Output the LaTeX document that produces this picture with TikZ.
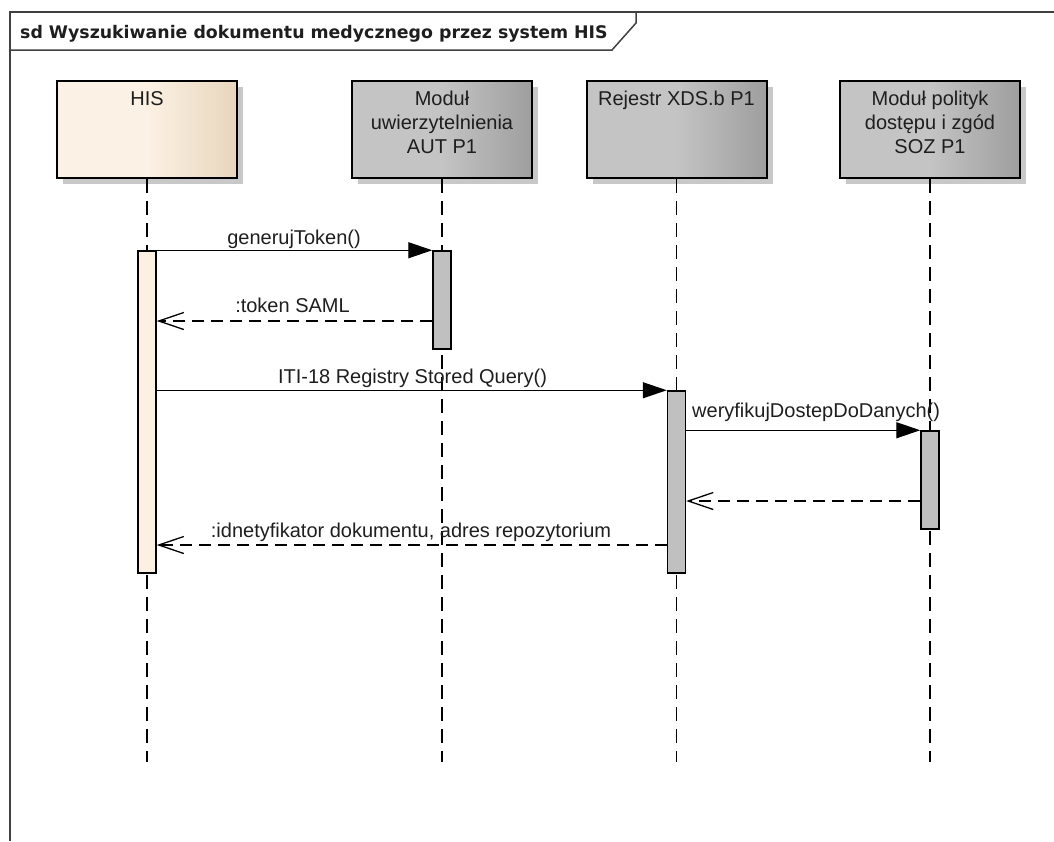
\documentclass[tikz,border=0pt]{standalone}
\usepackage{fontspec}
\setmainfont{Liberation Sans}
\newfontfamily\titlefont{DejaVu Sans}
\usetikzlibrary{arrows.meta,shadows}
\definecolor{hisL}{RGB}{251,241,228}
\definecolor{hisR}{RGB}{232,214,188}
\definecolor{grL}{RGB}{196,196,196}
\definecolor{grR}{RGB}{158,158,158}
\definecolor{shadowc}{RGB}{200,200,200}
\definecolor{framec}{RGB}{64,64,64}
\definecolor{actHIS}{RGB}{251,240,226}
\definecolor{actG}{RGB}{192,192,192}
\definecolor{txt}{RGB}{30,30,30}
\tikzset{
  lifebox/.style={draw=black, line width=2pt, minimum width=180pt, minimum height=97pt, inner sep=0pt,
    general shadow={fill=shadowc, shadow xshift=6pt, shadow yshift=-6pt}},
  hisfill/.style={left color=hisL, right color=hisR, middle color=hisL},
  grayfill/.style={left color=grL, right color=grR, middle color=grL},
  boxtext/.style={anchor=north, align=center, inner sep=0pt, font=\fontsize{20}{24}\selectfont, text=txt},
  lifeline/.style={line width=1.3pt, dash pattern=on 14pt off 8pt},
  act/.style={draw=black, line width=1.5pt, minimum width=18pt, inner sep=0pt},
  msg/.style={line width=1.3pt, -{Triangle[length=24pt,width=16pt]}},
  ret/.style={line width=1.3pt, dash pattern=on 12pt off 7pt, -{Straight Barb[length=25pt,width=17pt]}},
  lbl/.style={inner sep=0pt, font=\fontsize{20}{24}\selectfont, text=txt},
  frameline/.style={draw=framec, line width=1.5pt},
}
\begin{document}
\begin{tikzpicture}[x=1pt,y=-1pt]
\useasboundingbox (0,0) rectangle (1054,841);
% frame
\draw[frameline] (10,841) -- (10,12) -- (1054,12);
\draw[frameline] (10,50) -- (612,50) -- (636,23) -- (636,12);
\node[anchor=base west, inner sep=0pt, text=txt, font=\titlefont\bfseries\fontsize{17.35}{20}\selectfont] (title) at (20,38) {sd Wyszukiwanie dokumentu medycznego przez system HIS};
% lifeline heads
\node[lifebox, hisfill] (his) at (147,129.5) {};
\node[lifebox, grayfill] (aut) at (442,129.5) {};
\node[lifebox, grayfill] (rej) at (676.5,129.5) {};
\node[lifebox, grayfill] (soz) at (930,129.5) {};
\node[boxtext] (histxt) at ([yshift=-11pt]his.north) {HIS};
\node[boxtext] (auttxt) at ([yshift=-11pt]aut.north) {Moduł\\uwierzytelnienia\\AUT P1};
\node[boxtext] (rejtxt) at ([yshift=-11pt]rej.north) {Rejestr XDS.b P1};
\node[boxtext] (soztxt) at ([yshift=-11pt]soz.north) {Moduł polityk\\dostępu i zgód\\SOZ P1};
% lifelines
\coordinate (hisend) at (147,762);
\coordinate (autend) at (442,762);
\coordinate (rejend) at (676.5,762);
\coordinate (sozend) at (930,762);
\draw[lifeline] (his.south) -- (hisend);
\draw[lifeline] (aut.south) -- (autend);
\draw[lifeline] (rej.south) -- (rejend);
\draw[lifeline] (soz.south) -- (sozend);
% activations
\node[act, fill=actHIS, minimum height=322pt] (hisact) at (147,412) {};
\node[act, fill=actG, minimum height=98pt] (autact) at (442,300) {};
\node[act, fill=actG, minimum height=182pt] (rejact) at (676.5,482) {};
\node[act, fill=actG, minimum height=98pt] (sozact) at (930,480) {};
% messages
\coordinate (y2) at (0,321);
\coordinate (y5) at (0,501);
\coordinate (y6) at (0,545);
\draw[msg] (hisact.east |- autact.north) -- (autact.north west);
\draw[ret] (autact.west |- y2) -- (hisact.east |- y2);
\draw[msg] (hisact.east |- rejact.north) -- (rejact.north west);
\draw[msg] (rejact.east |- sozact.north) -- (sozact.north west);
\draw[ret] (sozact.west |- y5) -- (rejact.east |- y5);
\draw[ret] (rejact.west |- y6) -- (hisact.east |- y6);
% labels
\node[lbl, anchor=base] (l1) at (294,244) {generujToken()};
\node[lbl, anchor=base] (l2) at (292.5,312) {:token SAML};
\node[lbl, anchor=base] (l3) at (412.5,383) {ITI-18 Registry Stored Query()};
\node[lbl, anchor=base west] (l4) at (692,417) {weryfikujDostepDoDanych()};
\node[lbl, anchor=base] (l6) at (411,537) {:idnetyfikator dokumentu, adres repozytorium};
\end{tikzpicture}
\end{document}
